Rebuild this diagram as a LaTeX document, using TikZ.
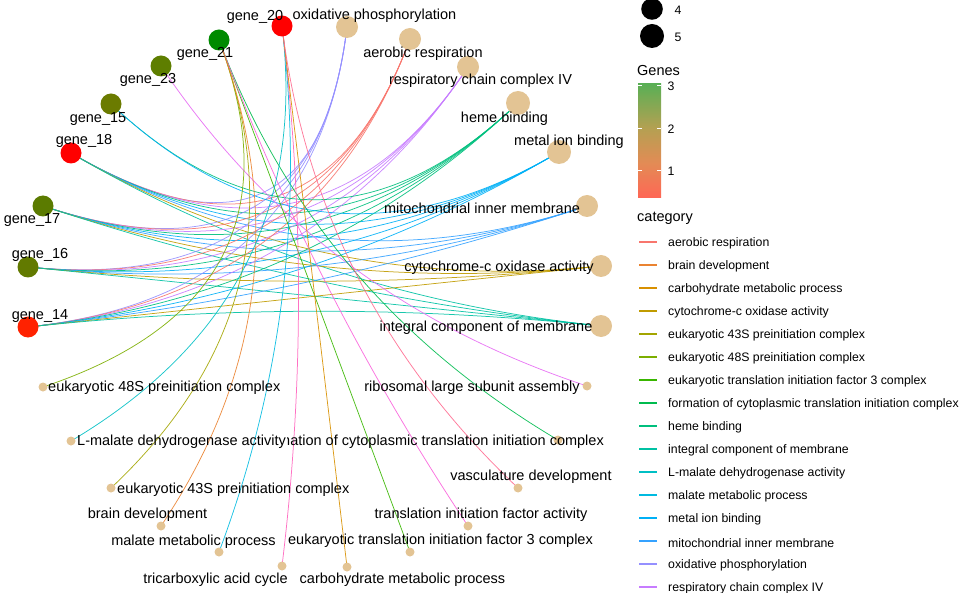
\documentclass[tikz,border=0pt]{standalone}
\usepackage{fontspec}
\setmainfont{Liberation Sans}
\usetikzlibrary{calc}
\pgfdeclarelayer{bg}
\pgfsetlayers{bg,main}
\definecolor{cAer}{HTML}{F8766D}
\definecolor{cBrain}{HTML}{EA8331}
\definecolor{cCarb}{HTML}{D89000}
\definecolor{cCyto}{HTML}{C09B00}
\definecolor{cFtS}{HTML}{A3A500}
\definecolor{cFeS}{HTML}{7CAE00}
\definecolor{cEif}{HTML}{39B600}
\definecolor{cForm}{HTML}{00BB4E}
\definecolor{cHeme}{HTML}{00BF7D}
\definecolor{cInteg}{HTML}{00C1A3}
\definecolor{cLmal}{HTML}{00BFC4}
\definecolor{cMal}{HTML}{00BAE0}
\definecolor{cMetal}{HTML}{00B0F6}
\definecolor{cMito}{HTML}{35A2FF}
\definecolor{cOx}{HTML}{9590FF}
\definecolor{cResp}{HTML}{C77CFF}
\definecolor{cRibo}{HTML}{E76BF3}
\definecolor{cTrans}{HTML}{FA62DB}
\definecolor{cTCA}{HTML}{FF62BC}
\definecolor{cVasc}{HTML}{FF6C91}
\definecolor{tan}{HTML}{E3C494}
\definecolor{gRed}{HTML}{FF0000}
\definecolor{gRedB}{HTML}{FF2200}
\definecolor{gGreen}{HTML}{008A00}
\definecolor{gOlA}{HTML}{5E7E00}
\definecolor{gOlB}{HTML}{6B7B00}
\definecolor{gOlC}{HTML}{5B7B00}
\definecolor{gOlD}{HTML}{627A00}
\definecolor{barTop}{HTML}{5AAF55}
\definecolor{barMid}{HTML}{B5A052}
\definecolor{barLow}{HTML}{E38B55}
\definecolor{barBot}{HTML}{FF6655}
\newcommand\cnedge[3]{\draw[edgeline,#3] (#1.center) .. controls ($(#1.center)!0.6667!(ctr)$) and ($(#2.center)!0.6667!(ctr)$) .. (#2.center);}
\tikzset{
  gnode/.style={circle, inner sep=0pt, minimum size=21pt},
  bignode/.style={circle, fill=tan, inner sep=0pt, minimum size=22pt},
  bigfive/.style={circle, fill=tan, inner sep=0pt, minimum size=24pt},
  smallnode/.style={circle, fill=tan, inner sep=0pt, minimum size=9pt},
  lab/.style={font=\fontsize{14.5}{17}\selectfont, inner sep=0pt},
  leg/.style={font=\fontsize{12.3}{14}\selectfont, inner sep=0pt},
  edgeline/.style={line width=0.75pt, opacity=0.9},
  legline/.style={line width=1.6pt},
}
\begin{document}
\begin{tikzpicture}[x=1pt,y=-1pt]
\useasboundingbox (0,0) rectangle (960,593);
\coordinate (ctr) at (315,296);
% gene nodes
\node[gnode, fill=gRed] (g20) at (282,26) {};
\node[gnode, fill=gGreen] (g21) at (219,40) {};
\node[gnode, fill=gOlA] (g23) at (161,66) {};
\node[gnode, fill=gOlB] (g15) at (111,104) {};
\node[gnode, fill=gRed] (g18) at (71,153) {};
\node[gnode, fill=gOlC] (g17) at (43,206) {};
\node[gnode, fill=gOlD] (g16) at (28,267) {};
\node[gnode, fill=gRedB] (g14) at (28,327) {};
% large category nodes
\node[bignode] (ox) at (347,27) {};
\node[bignode] (aer) at (410,39) {};
\node[bignode] (resp) at (468,67) {};
\node[bigfive] (heme) at (518,103) {};
\node[bigfive] (metal) at (559,152) {};
\node[bignode] (mito) at (587,206) {};
\node[bignode] (cyto) at (601,266) {};
\node[bignode] (integ) at (601,326) {};
% small category nodes
\node[smallnode] (ribo) at (587,386) {};
\node[smallnode] (form) at (558,440) {};
\node[smallnode] (vasc) at (518,488) {};
\node[smallnode] (trans) at (468,526) {};
\node[smallnode] (eif) at (410,552) {};
\node[smallnode] (carb) at (347,567) {};
\node[smallnode] (tca) at (282,566) {};
\node[smallnode] (mal) at (219,552) {};
\node[smallnode] (brain) at (161,526) {};
\node[smallnode] (fts) at (111,488) {};
\node[smallnode] (lmal) at (71,441) {};
\node[smallnode] (fes) at (43,387) {};
% edges
\begin{pgfonlayer}{bg}
\foreach \g in {g18,g17,g16,g14}{
  \foreach \c/\col in {ox/cOx, aer/cAer, resp/cResp, heme/cHeme, metal/cMetal, mito/cMito, cyto/cCyto, integ/cInteg}{
    \cnedge{\g}{\c}{\col}
  }
}
\cnedge{g15}{heme}{cHeme}
\cnedge{g15}{metal}{cMetal}
\cnedge{g23}{ribo}{cRibo}
\cnedge{g21}{fes}{cFeS}
\cnedge{g21}{fts}{cFtS}
\cnedge{g21}{eif}{cEif}
\cnedge{g21}{form}{cForm}
\cnedge{g21}{trans}{cTrans}
\cnedge{g21}{brain}{cBrain}
\cnedge{g20}{lmal}{cLmal}
\cnedge{g20}{mal}{cMal}
\cnedge{g20}{tca}{cTCA}
\cnedge{g20}{carb}{cCarb}
\cnedge{g20}{vasc}{cVasc}
\end{pgfonlayer}
% gene labels
\node[lab] (lg20) at (255,17) {gene\_20};
\node[lab] (lg21) at (205,54) {gene\_21};
\node[lab] (lg23) at (148,80) {gene\_23};
\node[lab] (lg15) at (98,119) {gene\_15};
\node[lab] (lg18) at (84,141) {gene\_18};
\node[lab] (lg17) at (32,220) {gene\_17};
\node[lab] (lg16) at (40,255) {gene\_16};
\node[lab] (lg14) at (40,316) {gene\_14};
% category labels
\node[lab] (lox) at (374.5,16) {oxidative phosphorylation};
\node[lab] (laer) at (423,54) {aerobic respiration};
\node[lab] (lresp) at (480.5,81) {respiratory chain complex IV};
\node[lab] (lheme) at (504.5,119) {heme binding};
\node[lab] (lmetal) at (569,141.5) {metal ion binding};
\node[lab] (lmito) at (482,208) {mitochondrial inner membrane};
\node[lab] (lcyto) at (499,268) {cytochrome-c oxidase activity};
\node[lab] (linteg) at (486,328) {integral component of membrane};
\node[lab] (lribo) at (472,388) {ribosomal large subunit assembly};
\begin{scope}
\clip (287,420) rectangle (620,460);
\node[lab, anchor=east] (lform) at (604,442) {formation of cytoplasmic translation initiation complex};
\end{scope}
\node[lab] (lvasc) at (531,477) {vasculature development};
\node[lab] (ltrans) at (481,515) {translation initiation factor activity};
\node[lab] (leif) at (440.5,541) {eukaryotic translation initiation factor 3 complex};
\node[lab] (lcarb) at (402.5,580) {carbohydrate metabolic process};
\node[lab] (ltca) at (215.5,580) {tricarboxylic acid cycle};
\node[lab] (lmal) at (193.5,542) {malate metabolic process};
\node[lab] (lbrain) at (147.5,515) {brain development};
\node[lab, anchor=west] (lfts) at (117,490) {eukaryotic 43S preinitiation complex};
\node[lab, anchor=west] (llmal) at (77,442) {L-malate dehydrogenase activity};
\node[lab, anchor=west] (lfes) at (48,388) {eukaryotic 48S preinitiation complex};
% size legend
\node[circle, fill=black, inner sep=0pt, minimum size=21.6pt] (s4) at (652,9) {};
\node[circle, fill=black, inner sep=0pt, minimum size=24pt] (s5) at (652,36) {};
\node[leg] (s4t) at (678,10) {4};
\node[leg] (s5t) at (678,37) {5};
% colour bar legend
\node[lab, anchor=west] (gtitle) at (637,71) {Genes};
\shade[top color=barTop, bottom color=barMid] (638,84) rectangle (661,128.5);
\shade[top color=barMid, bottom color=barBot, middle color=barLow] (638,128.5) rectangle (661,198);
\foreach \yy in {85,128.5,170.5}{
  \draw[white, line width=0.8pt] (638,\yy) -- (642,\yy);
  \draw[white, line width=0.8pt] (657,\yy) -- (661,\yy);
}
\node[leg] (t3) at (671,86) {3};
\node[leg] (t2) at (671,129) {2};
\node[leg] (t1) at (671,171) {1};
% category legend
\node[lab, anchor=west] (ctitle) at (637,218) {category};
\foreach \col/\txt [count=\i from 0] in {cAer/aerobic respiration, cBrain/brain development, cCarb/carbohydrate metabolic process, cCyto/cytochrome-c oxidase activity, cFtS/eukaryotic 43S preinitiation complex, cFeS/eukaryotic 48S preinitiation complex, cEif/eukaryotic translation initiation factor 3 complex, cForm/formation of cytoplasmic translation initiation complex, cHeme/heme binding, cInteg/integral component of membrane, cLmal/L-malate dehydrogenase activity, cMal/malate metabolic process, cMetal/metal ion binding, cMito/mitochondrial inner membrane, cOx/oxidative phosphorylation, cResp/respiratory chain complex IV}{
  \draw[legline, \col] (639,{242+23*\i}) -- (657,{242+23*\i});
  \node[leg, anchor=west] (leg\i) at (668,{243+23.05*\i}) {\txt};
}
\end{tikzpicture}
\end{document}
